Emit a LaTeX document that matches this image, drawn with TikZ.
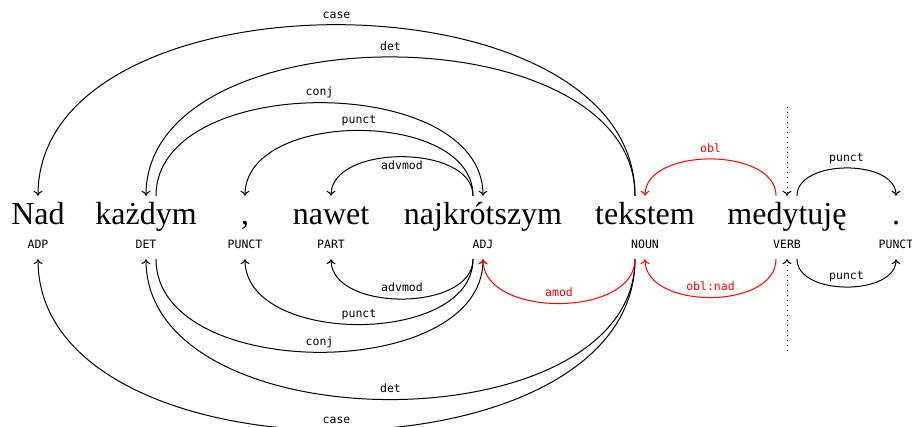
\documentclass[tikz,border=0pt]{standalone}
\usepackage{fontspec}
\setmainfont{Liberation Serif}
\newfontfamily\tagfont{DejaVu Sans Mono}
\usepackage{tikz}
\usetikzlibrary{arrows.meta,calc}
\definecolor{ink}{HTML}{000000}
\definecolor{deprel}{HTML}{FF0000}

\begin{document}
\begin{tikzpicture}[x=1pt,y=-1pt,
  word/.style={anchor=base,inner sep=0pt,text height=29pt,font=\fontsize{32}{36}\selectfont},
  tag/.style={anchor=base,inner sep=0pt,text depth=10pt,font=\tagfont\fontsize{11.5}{13}\selectfont},
  dep/.style={line width=1pt,-{To[length=5pt,width=9pt]}},
  rel/.style={anchor=base,inner sep=0pt,yshift=#1,font=\tagfont\fontsize{11.5}{13}\selectfont},
  rel/.default=7pt,
  root/.style={line width=1pt,dash pattern=on 1pt off 4pt,-{To[length=5pt,width=9pt]}}]
  \useasboundingbox (0,0) rectangle (912,427);
  % words & tags
  \foreach \i/\x/\w/\p in {1/38/Nad/ADP,2/146/każdym/DET,3/245/{,}/PUNCT,4/331/nawet/PART,
                           5/483/najkrótszym/ADJ,6/645/tekstem/NOUN,7/787/medytuję/VERB,8/896/./PUNCT}{
    \node[word] (w\i) at (\x,225) {\w};
    \node[tag]  (t\i) at (\x,249) {\p};
  }
  % upper arcs: {from}/{shift}/{to}/{height}/{label}/{colour}/{label shift}
  \foreach \f/\s/\t/\h/\lab/\c/\o in {6/-10/1/228/case/ink/6pt,6/-10/2/185/det/ink/7pt,
                                      2/10/5/124/conj/ink/7pt,5/-10/3/87/punct/ink/7pt,
                                      5/-10/4/52/advmod/ink/-13pt,7/-11/6/49/obl/deprel/7pt,
                                      7/10/8/37/punct/ink/7pt}{
    \draw[dep,\c] ([xshift=\s pt]w\f.north) .. controls +(0,-\h) and +(0,-\h) .. (w\t.north)
      node[midway,rel=\o] {\lab};
  }
  % lower arcs
  \foreach \f/\s/\t/\h/\lab/\c in {6/-10/1/228/case/ink,6/-10/2/187/det/ink,
                                   2/10/5/124/conj/ink,5/-10/3/87/punct/ink,
                                   5/-10/4/53/advmod/ink,6/-10/5/59/amod/deprel,
                                   7/-11/6/51/obl:nad/deprel,7/10/8/37/punct/ink}{
    \draw[dep,\c] ([xshift=\s pt]t\f.south) .. controls +(0,\h) and +(0,\h) .. (t\t.south)
      node[midway,rel] {\lab};
  }
  % root
  \coordinate (rtop) at (787,107);
  \coordinate (rbot) at (787,351);
  \draw[root] (rtop) -- (w7.north);
  \draw[root] (rbot) -- (t7.south);
\end{tikzpicture}
\end{document}
